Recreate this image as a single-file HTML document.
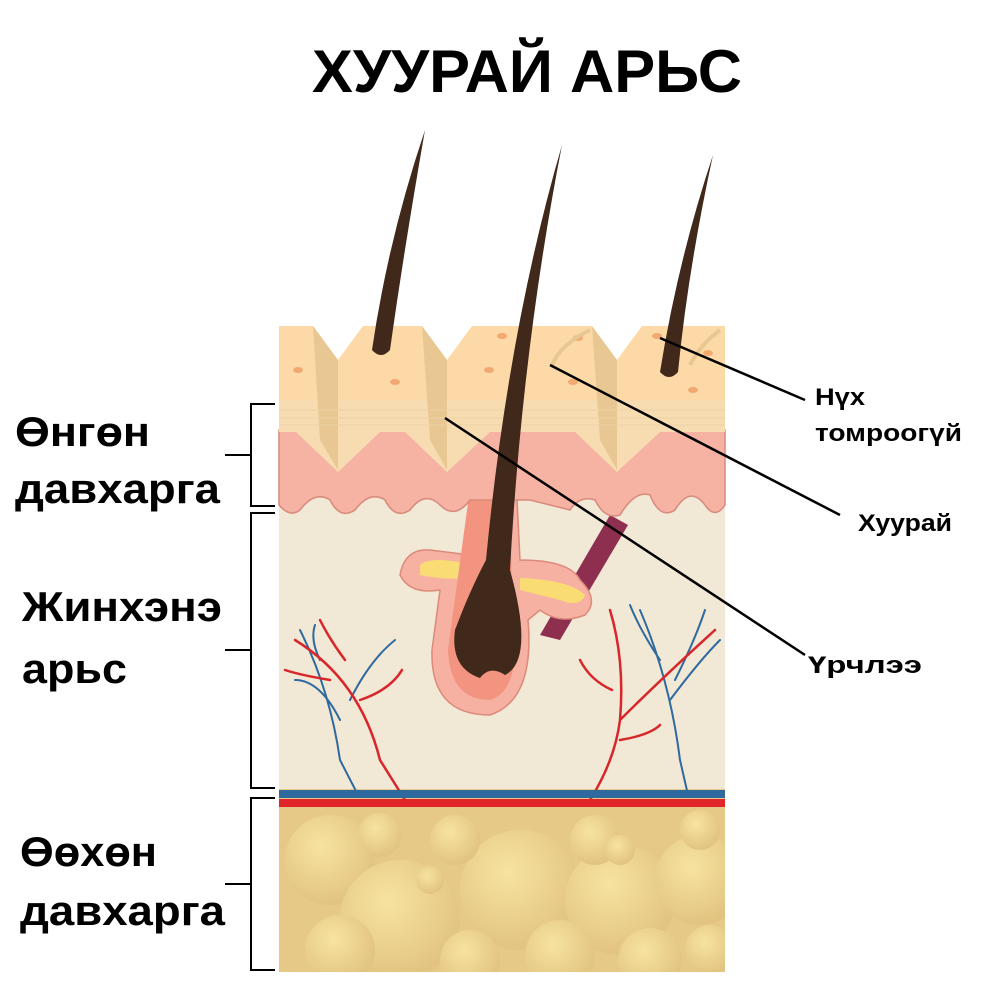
<!DOCTYPE html>
<html><head><meta charset="utf-8"><style>
body{margin:0;background:#fff;width:1000px;height:992px;overflow:hidden}
svg text{font-family:"Liberation Sans","DejaVu Sans",sans-serif;font-weight:bold;fill:#000}
</style></head><body>
<svg width="1000" height="992" viewBox="0 0 1000 992">
<defs>
<radialGradient id="fat" cx="0.4" cy="0.35" r="0.65"><stop offset="0" stop-color="#f7e3a0"/><stop offset="1" stop-color="#e2c380"/></radialGradient>
<clipPath id="cl"><rect x="279" y="805" width="446" height="167"/></clipPath>
</defs>
<text x="312" y="92" font-size="60" textLength="430" lengthAdjust="spacingAndGlyphs">ХУУРАЙ АРЬС</text>
<!-- fat layer -->
<rect x="279" y="805" width="446" height="167" fill="#e6c987"/>
<g fill="url(#fat)" clip-path="url(#cl)">
<circle cx="330" cy="860" r="45"/><circle cx="400" cy="920" r="60"/><circle cx="520" cy="890" r="60"/><circle cx="620" cy="900" r="55"/><circle cx="700" cy="880" r="45"/>
<circle cx="340" cy="950" r="35"/><circle cx="470" cy="960" r="30"/><circle cx="560" cy="955" r="35"/><circle cx="650" cy="960" r="32"/><circle cx="710" cy="950" r="25"/>
<circle cx="380" cy="835" r="22"/><circle cx="455" cy="840" r="25"/><circle cx="595" cy="840" r="25"/><circle cx="700" cy="830" r="20"/><circle cx="430" cy="880" r="14"/><circle cx="620" cy="850" r="15"/>
</g>
<!-- dermis -->
<rect x="279" y="480" width="446" height="318" fill="#f1e8d6"/>
<rect x="279" y="789" width="446" height="16" fill="#e6c987"/>
<!-- vessels -->
<g fill="none" stroke-linecap="round">
<path d="M300 630 Q330 690 340 760 L358 795 M340 720 Q320 680 295 680 M350 700 Q370 660 395 640 M320 660 Q310 640 315 625" stroke="#2e6a9e" stroke-width="2"/>
<path d="M295 640 Q360 680 380 760 L405 800 M360 700 Q390 690 402 670 M330 680 Q300 675 285 670 M345 660 Q330 640 320 620" stroke="#d9262a" stroke-width="2.5"/>
<path d="M640 610 Q670 680 680 760 L688 795 M670 700 Q700 660 720 640 M660 660 Q640 630 630 605 M675 680 Q695 640 705 610" stroke="#2e6a9e" stroke-width="2"/>
<path d="M590 800 Q615 760 620 720 Q625 660 610 610 M620 720 Q660 680 715 630 M620 740 Q650 735 660 725 M612 690 Q590 680 580 660" stroke="#d9262a" stroke-width="2.5"/>
</g>
<rect x="279" y="790" width="446" height="8" fill="#2e6a9e"/>
<rect x="279" y="799" width="446" height="8" fill="#e0262a"/>
<!-- muscle -->
<path d="M610 515 L628 525 L560 640 L540 635 Z" fill="#8e2f4f"/>
<!-- follicle -->
<path d="M478 398 L512 398 L520 560 Q570 560 580 580 Q600 600 585 615 Q560 625 540 610 L528 620 Q535 700 490 715 Q430 715 432 650 L440 590 Q410 595 400 575 Q405 548 430 550 L470 555 Z" fill="#f7b1a2" stroke="#dc8a7a" stroke-width="1.5"/>
<path d="M420 565 Q430 555 475 565 L470 578 Q440 580 420 575Z" fill="#f9dc74"/>
<path d="M520 578 Q570 580 585 595 Q580 608 560 600 L520 590Z" fill="#f9dc74"/>
<path d="M482 400 L508 400 L512 600 Q525 690 490 700 Q450 700 448 650 Z" fill="#f39480"/>
<!-- epidermis pink -->
<path d="M279 430 L725 430 L725 505 Q715 520 705 505 Q690 485 675 510 Q660 520 650 495 Q635 490 620 515 Q605 520 595 500 Q580 495 570 510 L530 500 L470 500 Q455 520 440 505 Q425 490 410 510 Q395 520 385 500 Q370 490 355 510 Q340 520 330 500 Q315 490 300 510 Q290 518 279 505Z" fill="#f6b2a3" stroke="#d88a7c" stroke-width="1.5"/>
<!-- beige upper epidermis -->
<path d="M279 326 L313 326 L338 360 L363 326 L422 326 L447 360 L472 326 L592 326 L617 360 L642 326 L725 326 L725 430 L660 430 L617 470 L575 430 L490 430 L447 470 L405 430 L380 430 L338 470 L296 430 L279 430Z" fill="#fcd9a6"/>
<path d="M279 400 L725 400 L725 432 L660 432 L617 472 L575 432 L490 432 L447 472 L405 432 L380 432 L338 472 L296 432 L279 432Z" fill="#f7dcb2"/>
<g fill="#e8c792"><path d="M313 326 L338 360 L338 470 L320 440Z"/><path d="M422 326 L447 360 L447 470 L430 440Z"/><path d="M592 326 L617 360 L617 470 L600 440Z"/></g>
<g stroke="#eed2a8" stroke-width="1"><line x1="279" y1="410" x2="725" y2="410"/><line x1="279" y1="418" x2="725" y2="418"/><line x1="279" y1="425" x2="725" y2="425"/></g>
<g fill="#f2a970"><ellipse cx="298" cy="370" rx="5" ry="3"/><ellipse cx="395" cy="382" rx="5" ry="3"/><ellipse cx="502" cy="336" rx="5" ry="3"/><ellipse cx="489" cy="370" rx="5" ry="3"/><ellipse cx="578" cy="338" rx="5" ry="3"/><ellipse cx="573" cy="382" rx="5" ry="3"/><ellipse cx="657" cy="336" rx="5" ry="3"/><ellipse cx="693" cy="390" rx="5" ry="3"/><ellipse cx="708" cy="353" rx="5" ry="3"/></g>
<path d="M552 365 Q560 345 590 330" stroke="#e8c792" stroke-width="4" fill="none"/>
<path d="M690 365 Q700 345 720 330" stroke="#e8c792" stroke-width="4" fill="none"/>
<!-- hairs -->
<g fill="#40281a">
<path d="M425 130 Q404 250 390 350 Q381 360 372 350 Q388 240 425 130Z"/>
<path d="M713 155 Q688 270 678 372 Q669 382 660 372 Q678 260 713 155Z"/>
<path d="M562 145 Q522 350 510 570 Q535 660 505 675 Q490 665 480 678 Q450 668 455 630 Q470 590 486 560 Q508 330 562 145Z"/>
</g>
<!-- leader lines -->
<g stroke="#000" stroke-width="2.5"><line x1="660" y1="338" x2="805" y2="400"/><line x1="550" y1="365" x2="840" y2="515"/><line x1="445" y1="418" x2="805" y2="655"/></g>
<!-- brackets -->
<g stroke="#000" stroke-width="2" fill="none">
<path d="M275 404 L251 404 L251 506 L275 506 M251 455 L225 455"/>
<path d="M275 513 L251 513 L251 788 L275 788 M251 650 L225 650"/>
<path d="M275 798 L251 798 L251 970 L275 970 M251 884 L225 884"/>
</g>
<g font-size="42"><text x="15" y="446" textLength="135" lengthAdjust="spacingAndGlyphs">Өнгөн</text><text x="15" y="503" textLength="205" lengthAdjust="spacingAndGlyphs">давхарга</text>
<text x="22" y="621" textLength="200" lengthAdjust="spacingAndGlyphs">Жинхэнэ</text><text x="22" y="683" textLength="105" lengthAdjust="spacingAndGlyphs">арьс</text>
<text x="20" y="866" textLength="137" lengthAdjust="spacingAndGlyphs">Өөхөн</text><text x="20" y="925" textLength="205" lengthAdjust="spacingAndGlyphs">давхарга</text></g>
<g font-size="24"><text x="815" y="405" textLength="50" lengthAdjust="spacingAndGlyphs">Нүх</text><text x="815" y="441" textLength="147" lengthAdjust="spacingAndGlyphs">томроогүй</text><text x="858" y="531" textLength="94" lengthAdjust="spacingAndGlyphs">Хуурай</text><text x="808" y="673" textLength="114" lengthAdjust="spacingAndGlyphs">Үрчлээ</text></g>
</svg>
</body></html>
